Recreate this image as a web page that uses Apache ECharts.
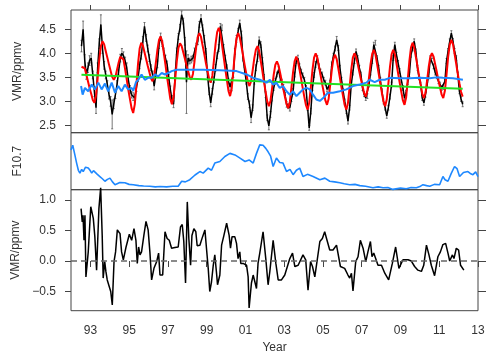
<!DOCTYPE html>
<html><head><meta charset="utf-8">
<script src="https://cdn.jsdelivr.net/npm/echarts@6/dist/echarts.min.js"></script>
<style>html,body{margin:0;padding:0;background:#fff}#c{width:500px;height:361px}</style>
</head><body><div id="c"></div>
<script>
// ---------- DATA ----------
const firstYear = 1992, firstMonth = 7; // monthly VMR series starts July 1992
const vmrMonthly = [
  4.15,4.50,3.85,3.56,3.70,3.85,
  3.90,3.55,3.20,2.87,3.70,4.20,4.60,4.10,3.75,3.55,3.35,3.15,
  3.00,2.73,2.95,3.14,3.35,3.63,3.90,4.00,3.95,3.84,3.70,3.45,
  3.25,3.14,3.10,3.07,3.28,3.49,3.75,3.95,4.25,4.56,4.32,4.10,
  3.90,3.70,3.56,3.32,3.55,3.77,4.18,4.35,4.20,4.04,3.90,3.77,
  3.50,3.25,3.04,2.94,3.56,4.04,4.35,4.53,4.80,4.67,4.25,3.40,
  3.90,3.84,3.87,3.90,4.04,4.15,4.25,4.60,4.73,4.53,4.30,4.04,
  3.56,3.21,2.97,3.21,3.45,3.70,3.95,4.11,4.56,4.53,4.11,3.90,
  3.70,3.42,3.30,3.28,3.56,4.04,4.30,4.46,4.63,4.39,3.90,3.65,
  3.42,3.10,2.94,2.66,2.87,3.42,3.70,3.90,4.28,4.18,3.85,3.50,
  3.14,2.66,2.49,2.73,3.07,3.28,3.42,3.56,3.66,3.49,3.40,3.30,
  3.14,2.94,2.90,2.87,3.05,3.21,3.56,3.84,3.90,3.73,3.62,3.54,
  3.45,3.28,2.87,2.45,2.80,3.28,3.55,3.77,3.90,3.73,3.62,3.56,
  3.45,3.39,3.25,3.30,3.39,3.77,3.95,4.10,4.28,4.11,3.70,3.45,
  3.21,3.00,2.80,2.59,2.87,3.35,3.60,3.84,4.04,3.90,3.70,3.56,
  3.28,3.15,3.07,3.11,3.35,3.60,3.84,4.18,4.22,3.90,3.70,3.45,
  3.21,3.00,2.87,2.70,2.87,3.10,3.35,3.90,4.18,3.97,3.80,3.63,
  3.45,3.28,3.07,3.18,3.40,3.56,3.97,4.10,4.25,4.04,3.70,3.50,
  3.35,3.07,2.97,3.14,3.35,3.56,3.90,3.94,3.73,3.60,3.52,3.42,
  3.35,3.28,3.30,3.42,3.84,4.05,4.25,4.42,4.25,4.05,3.90,3.56,
  3.21,3.05,2.94
];
const vmrError = [
  0.12,0.17,0.12,0.10,0.10,0.10,
  0.10,0.08,0.10,0.12,0.10,0.10,0.20,0.10,0.08,0.08,0.08,0.10,
  0.10,0.30,0.10,0.08,0.08,0.08,0.08,0.10,0.08,0.08,0.10,0.08,
  0.08,0.07,0.08,0.08,0.07,0.08,0.07,0.07,0.10,0.08,0.07,0.07,
  0.07,0.06,0.07,0.08,0.06,0.07,0.08,0.07,0.06,0.07,0.06,0.07,
  0.06,0.07,0.08,0.07,0.06,0.07,0.06,0.07,0.08,0.06,0.08,0.65,
  0.07,0.06,0.07,0.06,0.07,0.06,0.07,0.06,0.07,0.06,0.07,0.06,
  0.06,0.07,0.08,0.06,0.06,0.07,0.06,0.07,0.06,0.06,0.07,0.06,
  0.06,0.06,0.07,0.06,0.06,0.06,0.07,0.06,0.06,0.07,0.06,0.06,
  0.06,0.06,0.07,0.10,0.06,0.06,0.06,0.07,0.06,0.06,0.06,0.06,
  0.06,0.06,0.08,0.06,0.06,0.05,0.06,0.05,0.06,0.05,0.06,0.05,
  0.05,0.06,0.05,0.07,0.05,0.06,0.05,0.05,0.06,0.05,0.05,0.05,
  0.05,0.05,0.06,0.05,0.06,0.05,0.05,0.06,0.05,0.05,0.05,0.05,
  0.05,0.05,0.05,0.06,0.05,0.05,0.05,0.05,0.07,0.05,0.05,0.05,
  0.05,0.05,0.05,0.06,0.05,0.05,0.05,0.05,0.05,0.05,0.05,0.05,
  0.05,0.05,0.05,0.05,0.05,0.05,0.05,0.05,0.05,0.05,0.05,0.05,
  0.05,0.05,0.05,0.05,0.05,0.05,0.05,0.05,0.05,0.05,0.05,0.05,
  0.05,0.05,0.05,0.05,0.05,0.05,0.05,0.05,0.05,0.05,0.05,0.05,
  0.05,0.05,0.05,0.05,0.05,0.05,0.05,0.05,0.05,0.05,0.05,0.05,
  0.05,0.05,0.05,0.05,0.05,0.05,0.05,0.05,0.06,0.05,0.05,0.05,
  0.05,0.05,0.05
];
const modelMonthly = [
  3.72,3.75,3.69,3.56,3.42,3.28,
  3.16,3.03,2.97,3.12,3.48,3.87,4.15,4.25,4.19,4.05,3.91,3.77,
  3.64,3.51,3.45,3.51,3.66,3.81,3.93,3.97,3.87,3.67,3.46,3.24,
  3.05,2.86,2.76,2.94,3.34,3.78,4.10,4.22,4.16,4.02,3.88,3.74,
  3.61,3.48,3.42,3.53,3.79,4.07,4.28,4.35,4.24,4.00,3.76,3.50,
  3.28,3.05,2.94,3.09,3.45,3.83,4.11,4.21,4.15,4.02,3.89,3.75,
  3.63,3.51,3.45,3.57,3.84,4.13,4.34,4.42,4.34,4.16,3.99,3.80,
  3.64,3.47,3.39,3.53,3.85,4.19,4.44,4.53,4.42,4.18,3.93,3.68,
  3.45,3.22,3.11,3.27,3.63,4.03,4.32,4.42,4.33,4.15,3.96,3.76,
  3.58,3.41,3.32,3.42,3.65,3.90,4.08,4.15,4.05,3.84,3.63,3.40,
  3.20,3.00,2.90,3.01,3.27,3.55,3.76,3.83,3.75,3.59,3.42,3.25,
  3.09,2.94,2.86,2.99,3.29,3.61,3.84,3.93,3.84,3.66,3.47,3.27,
  3.09,2.92,2.83,2.97,3.30,3.65,3.91,4.00,3.91,3.73,3.55,3.36,
  3.19,3.02,2.93,3.05,3.35,3.66,3.89,3.97,3.88,3.69,3.49,3.29,
  3.10,2.92,2.83,2.97,3.30,3.65,3.91,4.00,3.93,3.78,3.62,3.46,
  3.32,3.17,3.10,3.22,3.49,3.78,3.99,4.07,3.98,3.78,3.58,3.37,
  3.18,2.99,2.90,3.04,3.37,3.72,3.98,4.07,3.98,3.79,3.59,3.39,
  3.20,3.02,2.93,3.08,3.45,3.83,4.12,4.22,4.13,3.93,3.74,3.53,
  3.35,3.16,3.07,3.18,3.44,3.72,3.93,4.00,3.93,3.77,3.61,3.44,
  3.29,3.14,3.07,3.22,3.55,3.92,4.18,4.28,4.19,3.99,3.78,3.57,
  3.38,3.20,3.10
];
const trendYears = [1992.54, 2012.21];
const trendValues = [3.555, 3.265];
const solarTermPoints = [
  [1992.52,3.32],[1992.60,3.14],[1992.72,3.28],[1992.89,3.21],[1993.07,3.35],[1993.24,3.25],
  [1993.41,3.39],[1993.58,3.25],[1993.75,3.37],[1993.92,3.21],[1994.10,3.39],[1994.27,3.18],
  [1994.44,3.32],[1994.61,3.21],[1994.78,3.35],[1994.95,3.25],[1995.13,3.28],[1995.21,3.22],
  [1995.35,3.40],[1995.47,3.45],[1995.64,3.56],[1995.81,3.45],[1995.98,3.49],[1996.16,3.49],
  [1996.33,3.56],[1996.50,3.52],[1996.68,3.59],[1996.85,3.56],[1997.02,3.59],[1997.19,3.63],
  [1997.45,3.66],[1997.62,3.66],[1998.13,3.66],[1998.82,3.66],[1999.68,3.65],[2000.54,3.63],
  [2001.06,3.56],[2001.40,3.49],[2001.74,3.45],[2002.09,3.39],[2002.26,3.45],[2002.43,3.35],
  [2002.60,3.39],[2002.77,3.28],[2002.94,3.32],[2003.12,3.21],[2003.29,3.14],[2003.46,3.21],
  [2003.63,3.11],[2003.80,3.18],[2003.97,3.25],[2004.15,3.28],[2004.23,3.32],[2004.32,3.25],
  [2004.49,3.14],[2004.66,3.04],[2004.84,3.01],[2005.01,3.07],[2005.26,3.18],[2005.52,3.18],
  [2005.87,3.21],[2006.21,3.25],[2006.55,3.32],[2006.90,3.35],[2007.24,3.39],[2007.41,3.45],
  [2007.67,3.40],[2007.93,3.45],[2008.19,3.45],[2008.45,3.49],[2008.96,3.48],[2009.48,3.48],
  [2010.00,3.49],[2010.51,3.48],[2010.85,3.50],[2011.19,3.49],[2011.71,3.48],[2012.22,3.45]
];
const f107Points = [
  [1992.00,190],[1992.09,205],[1992.18,180],[1992.29,148],[1992.38,125],[1992.46,116],[1992.55,128],
  [1992.63,121],[1992.75,135],[1992.89,132],[1992.98,125],[1993.07,116],[1993.16,124],[1993.24,121],
  [1993.36,112],[1993.49,105],[1993.62,98],[1993.75,90],[1993.88,96],[1994.01,100],[1994.14,88],
  [1994.27,79],[1994.52,86],[1994.78,85],[1995.00,80],[1995.21,79],[1995.50,76],[1995.75,75],
  [1996.07,74],[1996.35,72],[1996.60,73],[1996.93,72],[1997.25,74],[1997.53,74],[1997.71,90],
  [1997.90,88],[1998.13,95],[1998.40,110],[1998.65,121],[1998.82,116],[1999.08,132],[1999.25,125],
  [1999.42,148],[1999.68,153],[1999.94,169],[2000.20,179],[2000.46,174],[2000.72,164],[2000.98,153],
  [2001.19,158],[2001.40,148],[2001.57,179],[2001.74,206],[2001.91,205],[2002.05,195],[2002.17,184],
  [2002.30,170],[2002.43,137],[2002.60,164],[2002.77,150],[2002.94,148],[2003.12,121],[2003.30,128],
  [2003.46,111],[2003.63,125],[2003.80,132],[2003.97,105],[2004.20,112],[2004.49,105],[2004.84,95],
  [2005.10,100],[2005.35,90],[2005.60,88],[2005.87,85],[2006.10,82],[2006.38,79],[2006.65,80],
  [2006.90,76],[2007.20,74],[2007.58,69],[2007.85,72],[2008.10,69],[2008.35,70],[2008.61,64],
  [2009.00,68],[2009.30,66],[2009.55,70],[2009.82,69],[2010.00,73],[2010.16,79],[2010.35,76],
  [2010.51,74],[2010.75,80],[2011.02,79],[2011.19,105],[2011.30,95],[2011.45,90],[2011.62,115],
  [2011.79,137],[2011.92,130],[2012.05,105],[2012.25,118],[2012.48,121],[2012.60,115],[2012.74,111],
  [2012.88,120],[2013.00,105]
];
const residualPoints = [
  [1992.52,0.86],[1992.58,0.64],[1992.62,0.75],[1992.67,0.34],[1992.72,0.75],[1992.77,-0.26],
  [1992.89,0.15],[1993.02,0.89],[1993.15,0.70],[1993.23,0.40],[1993.32,-0.15],[1993.44,0.86],
  [1993.53,1.20],[1993.61,0.42],[1993.66,-0.28],[1993.74,-0.01],[1993.80,-0.17],[1993.87,-0.31],
  [1993.97,-0.31],[1994.05,-0.50],[1994.13,-0.72],[1994.22,-0.01],[1994.30,0.15],[1994.39,0.51],
  [1994.53,0.45],[1994.61,0.15],[1994.70,0.02],[1994.84,0.23],[1994.94,0.23],[1995.01,0.44],
  [1995.13,0.34],[1995.25,0.53],[1995.35,0.34],[1995.42,-0.04],[1995.49,0.23],[1995.56,0.10],
  [1995.64,0.15],[1995.76,0.42],[1995.87,0.65],[1995.98,0.51],[1996.07,0.15],[1996.16,-0.31],
  [1996.28,-0.12],[1996.42,-0.01],[1996.52,0.13],[1996.59,-0.23],[1996.73,-0.23],[1996.85,0.48],
  [1996.96,0.37],[1997.07,0.34],[1997.19,0.21],[1997.36,0.22],[1997.53,0.23],[1997.65,0.56],
  [1997.74,0.60],[1997.82,0.32],[1997.91,-0.36],[1998.00,0.97],[1998.08,0.37],[1998.17,-0.07],
  [1998.24,0.42],[1998.34,0.53],[1998.44,0.48],[1998.51,0.25],[1998.65,0.26],[1998.79,0.40],
  [1998.91,0.51],[1998.99,0.21],[1999.08,-0.12],[1999.16,-0.50],[1999.25,-0.34],[1999.34,-0.07],
  [1999.42,0.10],[1999.51,-0.20],[1999.56,-0.39],[1999.68,-0.23],[1999.77,0.26],[1999.89,0.42],
  [2000.03,0.62],[2000.16,0.42],[2000.23,0.21],[2000.31,0.40],[2000.45,0.40],[2000.54,0.29],
  [2000.62,0.04],[2000.71,0.15],[2000.76,-0.04],[2000.88,-0.04],[2001.06,-0.07],[2001.14,-0.26],
  [2001.19,-0.77],[2001.31,-0.36],[2001.40,-0.23],[2001.57,-0.45],[2001.65,-0.04],[2001.74,0.13],
  [2001.91,0.48],[2002.05,0.04],[2002.17,-0.39],[2002.26,-0.17],[2002.43,0.34],[2002.57,-0.04],
  [2002.69,-0.31],[2002.86,-0.31],[2003.03,-0.23],[2003.29,0.04],[2003.43,0.13],[2003.55,-0.09],
  [2003.72,-0.07],[2003.97,0.10],[2004.11,0.02],[2004.23,-0.48],[2004.36,-0.01],[2004.46,-0.09],
  [2004.58,-0.26],[2004.84,0.32],[2004.97,0.37],[2005.09,0.48],[2005.21,0.34],[2005.35,0.18],
  [2005.52,0.18],[2005.70,0.26],[2005.90,-0.09],[2006.12,-0.12],[2006.29,-0.23],[2006.38,-0.28],
  [2006.47,-0.20],[2006.55,-0.49],[2006.69,-0.01],[2006.81,0.07],[2006.93,0.34],[2007.07,0.21],
  [2007.21,-0.01],[2007.32,0.15],[2007.45,0.32],[2007.53,0.07],[2007.62,0.13],[2007.72,0.04],
  [2007.84,-0.07],[2008.02,-0.07],[2008.19,-0.20],[2008.39,-0.31],[2008.58,-0.04],[2008.75,0.23],
  [2008.92,-0.12],[2009.13,0.02],[2009.39,0.02],[2009.56,0.00],[2009.73,-0.09],[2009.90,-0.15],
  [2010.08,-0.17],[2010.20,-0.07],[2010.34,0.26],[2010.47,0.10],[2010.59,-0.07],[2010.76,-0.24],
  [2010.93,0.07],[2011.06,0.15],[2011.19,0.27],[2011.33,0.29],[2011.45,0.13],[2011.54,0.00],
  [2011.68,0.10],[2011.76,0.04],[2011.88,0.21],[2012.00,0.18],[2012.10,-0.07],[2012.16,-0.09],
  [2012.27,-0.15]
];
const yearTicks = [1993,1995,1997,1999,2001,2003,2005,2007,2009,2011,2013];
const vmrTicks = [2.5,3.0,3.5,4.0,4.5];
const residTicks = [-0.5,0.0,0.5,1.0];

// ---------- BUILD ----------
const monthTime = i => firstYear + (firstMonth - 1 + i + 0.5) / 12;
const vmrData = vmrMonthly.map((v, i) => [monthTime(i), v]);
const errData = vmrMonthly.map((v, i) => [monthTime(i), v - vmrError[i], v + vmrError[i]]);
const modelData = modelMonthly.map((v, i) => [monthTime(i), v]);
const trendData = trendYears.map((t, i) => [t, trendValues[i]]);

const FONT = 'Liberation Sans, Arial, sans-serif';
const TXT = '#333';
const AX = '#444';
const lbl = {fontFamily: FONT, fontSize: 12, color: TXT};

const chart = echarts.init(document.getElementById('c'), null, {renderer: 'canvas'});
const L = 71, W = 407;
const xBase = {type: 'value', min: 1992, max: 2013, splitLine: {show: false}, axisLine: {show: false}};
chart.setOption({
  animation: false,
  backgroundColor: '#fff',
  grid: [
    {left: L, top: 10, width: W, height: 122.7, show: true, borderColor: AX, borderWidth: 1, backgroundColor: 'transparent'},
    {left: L, top: 132.7, width: W, height: 57, show: true, borderColor: AX, borderWidth: 1, backgroundColor: 'transparent'},
    {left: L, top: 189.7, width: W, height: 121, show: true, borderColor: AX, borderWidth: 1, backgroundColor: 'transparent'}
  ],
  xAxis: [
    Object.assign({}, xBase, {gridIndex: 0, position: 'top',
      axisTick: {show: true, inside: false, length: 5, customValues: yearTicks, lineStyle: {color: AX}},
      axisLabel: {show: false}}),
    Object.assign({}, xBase, {gridIndex: 1, axisTick: {show: false}, axisLabel: {show: false}}),
    Object.assign({}, xBase, {gridIndex: 2, position: 'bottom',
      axisTick: {show: true, inside: false, length: 6, customValues: yearTicks, lineStyle: {color: AX}},
      axisLabel: Object.assign({show: true, margin: 14, customValues: yearTicks,
        formatter: v => String(Math.round(v) % 100).padStart(2, '0')}, lbl),
      name: 'Year', nameLocation: 'middle', nameGap: 31, nameTextStyle: lbl})
  ],
  yAxis: [
    {type: 'value', gridIndex: 0, position: 'left', min: 2.35, max: 4.9, splitLine: {show: false}, axisLine: {show: false},
      axisTick: {show: true, length: 6, customValues: vmrTicks, lineStyle: {color: AX}},
      axisLabel: Object.assign({margin: 15, customValues: vmrTicks, formatter: v => v.toFixed(1)}, lbl),
      name: 'VMR/ppmv', nameLocation: 'middle', nameGap: 47, nameRotate: 90, nameTextStyle: lbl},
    {type: 'value', gridIndex: 0, position: 'right', min: 2.35, max: 4.9, splitLine: {show: false}, axisLine: {show: false},
      axisTick: {show: true, length: 8, customValues: vmrTicks, lineStyle: {color: AX}}, axisLabel: {show: false}},
    {type: 'value', gridIndex: 1, position: 'left', min: 63, max: 245, splitLine: {show: false}, axisLine: {show: false},
      axisTick: {show: false}, axisLabel: {show: false},
      name: 'F10.7', nameLocation: 'middle', nameGap: 47, nameRotate: 90, nameTextStyle: lbl},
    {type: 'value', gridIndex: 2, position: 'left', min: -0.815, max: 1.17, splitLine: {show: false}, axisLine: {show: false},
      axisTick: {show: true, length: 6, customValues: residTicks, lineStyle: {color: AX}},
      axisLabel: Object.assign({margin: 15, customValues: residTicks,
        formatter: v => (v < 0 ? '\u2212' : '') + Math.abs(v).toFixed(1)}, lbl),
      name: 'VMR/ppmv', nameLocation: 'middle', nameGap: 47, nameRotate: 90, nameTextStyle: lbl},
    {type: 'value', gridIndex: 2, position: 'right', min: -0.815, max: 1.17, splitLine: {show: false}, axisLine: {show: false},
      axisTick: {show: true, length: 8, customValues: residTicks, lineStyle: {color: AX}}, axisLabel: {show: false}}
  ],
  series: [
    {type: 'custom', xAxisIndex: 0, yAxisIndex: 0, data: errData, encode: {x: 0, y: [1, 2]}, z: 1,
      renderItem: (params, api) => {
        const x = api.value(0);
        const p1 = api.coord([x, api.value(1)]), p2 = api.coord([x, api.value(2)]);
        const w = 1, st = {stroke: '#555', lineWidth: 0.8};
        return {type: 'group', children: [
          {type: 'line', shape: {x1: p1[0], y1: p1[1], x2: p2[0], y2: p2[1]}, style: st},
          {type: 'line', shape: {x1: p1[0] - w, y1: p1[1], x2: p1[0] + w, y2: p1[1]}, style: st},
          {type: 'line', shape: {x1: p2[0] - w, y1: p2[1], x2: p2[0] + w, y2: p2[1]}, style: st}
        ]};
      }},
    {type: 'line', xAxisIndex: 0, yAxisIndex: 0, data: vmrData, showSymbol: false, symbol: 'none', z: 2,
      lineStyle: {color: '#000', width: 1.5}},
    {type: 'line', xAxisIndex: 0, yAxisIndex: 0, data: modelData, showSymbol: false, symbol: 'none', z: 3,
      lineStyle: {color: '#ff0000', width: 2}},
    {type: 'line', xAxisIndex: 0, yAxisIndex: 0, data: trendData, showSymbol: false, symbol: 'none', z: 4,
      lineStyle: {color: '#22e022', width: 2}},
    {type: 'line', xAxisIndex: 0, yAxisIndex: 0, data: solarTermPoints, showSymbol: false, symbol: 'none', z: 5,
      lineStyle: {color: '#1e88ff', width: 2}},
    {type: 'line', xAxisIndex: 1, yAxisIndex: 2, data: f107Points, showSymbol: false, symbol: 'none', clip: false,
      lineStyle: {color: '#1e88ff', width: 1.6}},
    {type: 'line', xAxisIndex: 2, yAxisIndex: 3, data: residualPoints, showSymbol: false, symbol: 'none', clip: false,
      lineStyle: {color: '#000', width: 1.5},
      markLine: {silent: true, symbol: 'none', label: {show: false},
        lineStyle: {color: '#666', width: 1.5, type: [6, 4]}, data: [{yAxis: 0}]}}
  ]
});
</script>
</body></html>
